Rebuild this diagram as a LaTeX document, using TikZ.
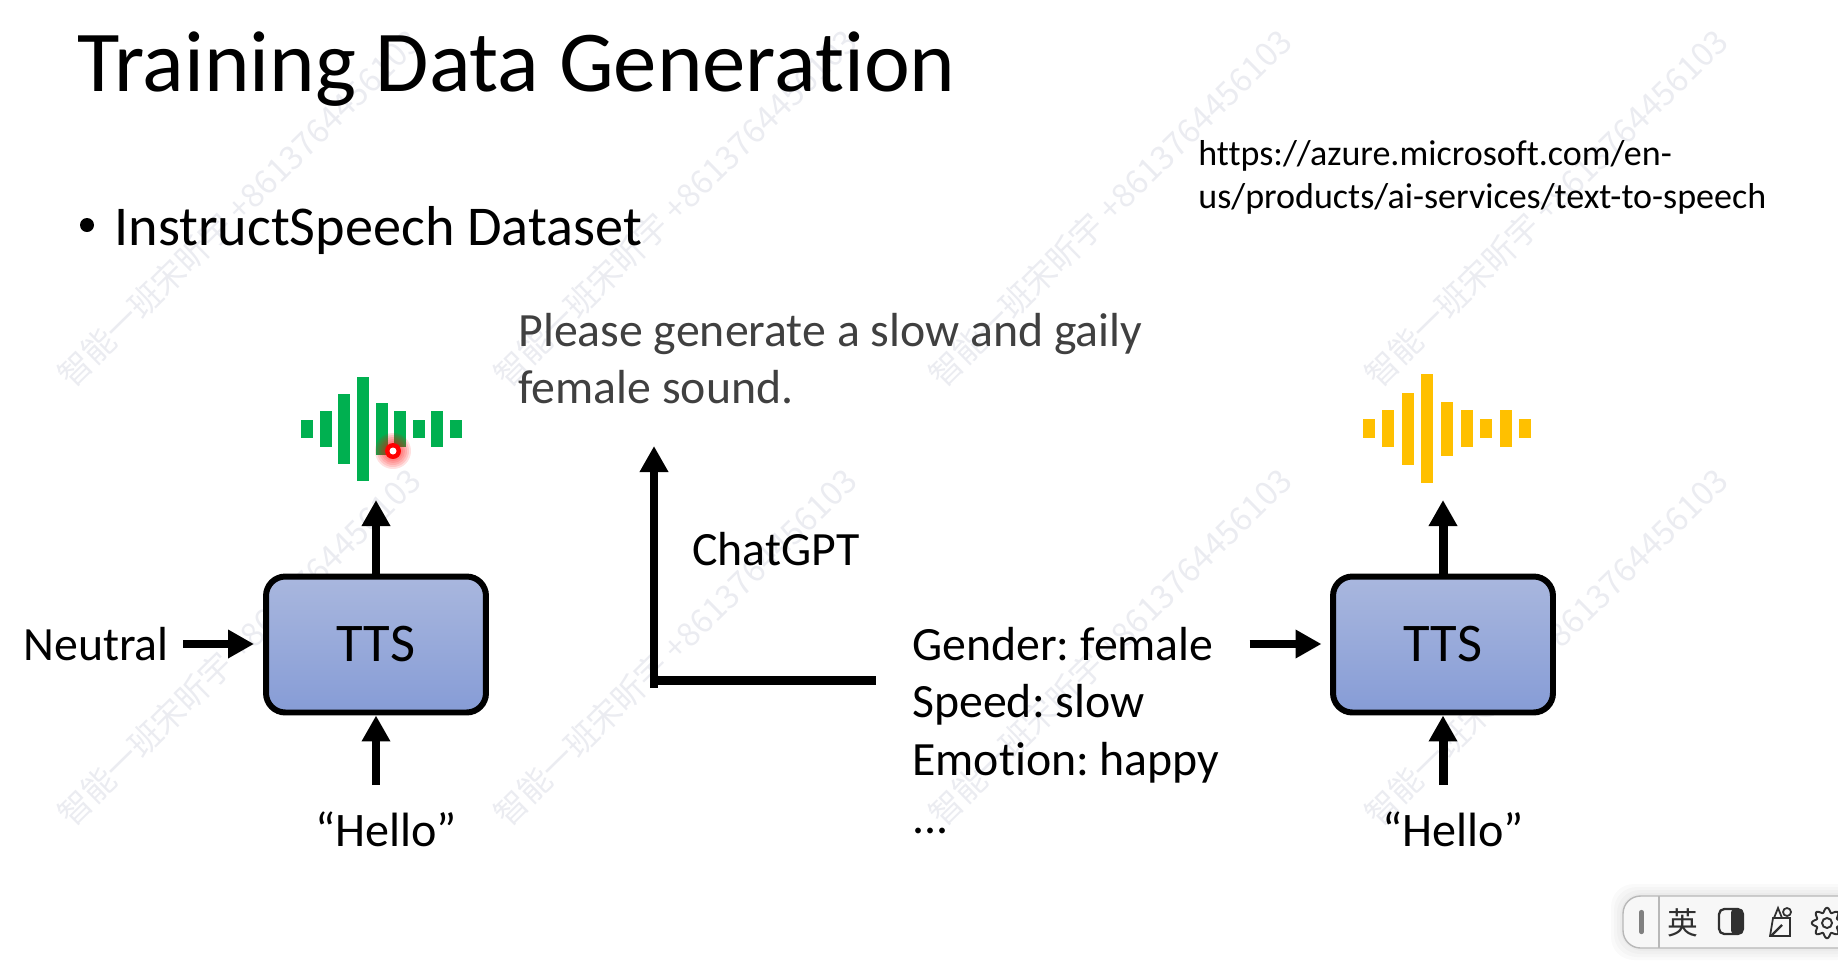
\documentclass[tikz,border=0pt]{standalone}
\usepackage{fontspec}
\setmainfont[Ligatures=CommonOff]{Carlito}
\newfontfamily\cjkfont{Noto Sans CJK SC}
\usetikzlibrary{arrows.meta,positioning,shapes}
\frenchspacing
\definecolor{wavegreen}{HTML}{00B050}
\definecolor{waveyellow}{HTML}{FFC000}
\definecolor{boxtop}{HTML}{A9B7DE}
\definecolor{boxbottom}{HTML}{869CD6}
\definecolor{markgray}{HTML}{EBECF1}
\definecolor{plaingray}{HTML}{404040}
\definecolor{iconink}{HTML}{303030}
\tikzset{
  ttsbox/.style={draw=black,line width=3.4pt,rounded corners=11pt,top color=boxtop,bottom color=boxbottom,
    minimum width=4.4cm,minimum height=2.72cm,font=\fontsize{31}{36}\selectfont},
  bigarrow/.style={line width=5.1pt,-{Triangle[length=14.8pt,width=15.4pt]}},
  bigline/.style={line width=5.1pt},
  label/.style={anchor=base west,inner sep=0pt,font=\fontsize{27.2}{32}\selectfont},
  hello/.style={anchor=base,inner sep=0pt,font=\fontsize{27.4}{32}\selectfont},
  watermark/.style={rotate=44.5,text=markgray,inner sep=0pt,font=\cjkfont\fontsize{18.7}{22}\selectfont}
}
\begin{document}
\begin{tikzpicture}[x=0.02cm,y=-0.02cm]
      \useasboundingbox (0,0) rectangle (1838,974);
      \clip (0,0) rectangle (1838,974);
      % watermarks
      \foreach \wx in {239,675,1110,1546}
        \node[watermark] (wmtop\wx) at (\wx,208) {智能一班宋昕宇 +8613764456103};
      \foreach \wx in {239,675,1110,1546}
        \node[watermark] (wmlow\wx) at (\wx,647) {智能一班宋昕宇 +8613764456103};
      % headings
      \node[anchor=base west,inner sep=0pt,font=\fontsize{49.4}{56}\selectfont] (title) at (77,91) {Training Data Generation};
      \fill (87,225) circle (7);
      \node[anchor=base west,inner sep=0pt,font=\fontsize{32}{38}\selectfont] (item) at (114,245) {InstructSpeech Dataset};
      \node[anchor=base west,inner sep=0pt,align=left,font=\fontsize{20.5}{24}\selectfont] (urla) at (1198,165) {https://azure.microsoft.com/en-};
      \node[anchor=base west,inner sep=0pt,align=left,font=\fontsize{20.5}{24}\selectfont] (urlb) at (1198,208) {us/products/ai-services/text-to-speech};
      \node[label,text=plaingray] (askone) at (518,346) {Please generate a slow and gaily};
      \node[label,text=plaingray] (asktwo) at (518,403) {female sound.};
      % left part
      \node[ttsbox] (ttsa) at (376,644.5) {\raisebox{-1pt}{TTS}};
      \foreach \bx/\bh in {307/9,326/18,344/35,363/52,382/26,400/18,419/9,437/18,456/9}
        \fill[wavegreen] (\bx-5.8,429-\bh) rectangle (\bx+5.8,429+\bh);
      \foreach \gr in {18,16,14,12,10}
        \fill[red,opacity=0.12] (393,451) circle (\gr);
      \fill[red] (393,451) circle (8);
      \fill[white] (393,451) circle (3.5);
      \coordinate (tipa) at (376,500);
      \draw[bigarrow] (ttsa.north) -- (tipa);
      \node[label] (neutral) at (23,660) {Neutral};
      \coordinate (neua) at (183,644);
      \coordinate (neub) at (254,644);
      \draw[bigarrow] (neua) -- (neub);
      \coordinate (hia) at (376,785);
      \draw[bigarrow] (hia) -- (ttsa.south);
      \node[hello] (helloa) at (386,846) {“Hello”};
      % chatgpt step
      \coordinate (bendstart) at (875.5,680.5);
      \coordinate (bendend) at (658,680.5);
      \coordinate (upstart) at (654,688);
      \coordinate (uptip) at (654,446);
      \draw[bigline] (bendstart) -- (bendend);
      \draw[bigarrow] (upstart) -- (uptip);
      \node[label] (chat) at (692,565.5) {ChatGPT};
      \node[label] (gender) at (912,660) {Gender: female};
      \node[label] (speed) at (912,717.5) {Speed: slow};
      \node[label] (emotion) at (912,775.5) {Emotion: happy};
      \node[label] (dots) at (912,833) {...};
      % right part
      \node[ttsbox] (ttsb) at (1443,644.5) {\raisebox{-1pt}{TTS}};
      \foreach \bx/\bh in {1368.5/9.5,1388/18.5,1407.5/36,1427/54.5,1447/27,1466.5/18.5,1486/9.5,1505.5/18.5,1525/9.5}
        \fill[waveyellow] (\bx-6,428.5-\bh) rectangle (\bx+6,428.5+\bh);
      \coordinate (tipb) at (1443,500);
      \draw[bigarrow] (ttsb.north) -- (tipb);
      \coordinate (ina) at (1249.5,644);
      \coordinate (inb) at (1321.5,644);
      \draw[bigarrow] (ina) -- (inb);
      \coordinate (hib) at (1443,785);
      \draw[bigarrow] (hib) -- (ttsb.south);
      \node[hello] (hellob) at (1453,846) {“Hello”};
      % input bar
      \foreach \sz in {12,9,6,3}
        \fill[black,opacity=0.02,rounded corners=13] (1623-\sz,896-\sz) rectangle (1860,948+\sz);
      \draw[draw=black!28,fill=white!97!black,line width=0.8pt,rounded corners=10] (1623,896) rectangle (1860,948);
      \draw[black!28,line width=0.8pt] (1659,896) -- (1659,948);
      \draw[black!50,line width=2.4pt,line cap=round] (1641.5,912) -- (1641.5,932);
      \node[inner sep=0pt,text=iconink,font=\cjkfont\fontsize{17.5}{20}\selectfont] (lang) at (1683,923) {英};
      \draw[iconink,line width=1.3pt,rounded corners=3] (1719,909) rectangle (1743,934);
      \fill[iconink,rounded corners=2] (1731,909) rectangle (1743,934);
      \draw[iconink,line width=1pt] (1773,918) -- (1770,936) -- (1790,936) -- (1790,918) -- cycle;
      \draw[iconink,line width=1pt] (1774,918) -- (1778,908) -- (1782,918);
      \draw[iconink,line width=1pt] (1787,912) circle (4);
      \draw[iconink,line width=1.3pt] (1771,936) -- (1782,925);
      \draw[iconink,line width=1.1pt,domain=0:360,samples=145,smooth] plot ({1827+(13+2.2*cos(8*\x))*cos(\x)},{923+(13+2.2*cos(8*\x))*sin(\x)});
      \draw[iconink,line width=1.1pt] (1827,923) circle (5);
\end{tikzpicture}
\end{document}
